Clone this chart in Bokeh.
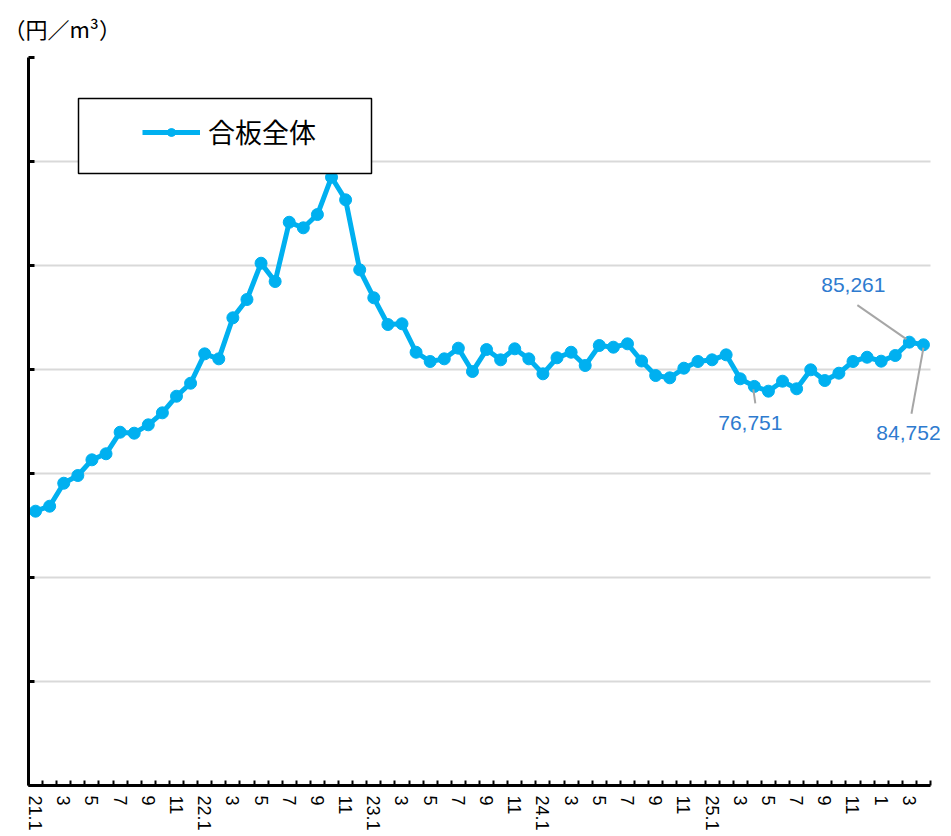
from bokeh.plotting import figure
from bokeh.models import (Range1d, FixedTicker, ColumnDataSource, LabelSet,
                          BoxAnnotation, Legend)
from bokeh.core.properties import value
from bokeh.embed import file_html
from bokeh.resources import INLINE

# ---------------- data ----------------
# monthly prices (円/m3), 2021.1 .. 2026.4
prices_2021 = [52750, 53710, 58130, 59610, 62630, 63790, 67940, 67750, 69360, 71670, 74860, 77360]
prices_2022 = [83010, 82050, 89940, 93460, 100440, 96920, 108320, 107250, 109800, 116980, 112630, 99170]
prices_2023 = [93790, 88650, 88790, 83320, 81540, 82050, 84100, 79610, 83840, 81860, 83980, 82050]
prices_2024 = [79170, 82250, 83320, 80770, 84610, 84290, 84940, 81630, 78840, 78400, 80250, 81540]
prices_2025 = [81860, 82820, 78210, 76751, 75830, 77750, 76290, 79940, 77880, 79290, 81540, 82360]
prices_2026 = [81600, 82690, 85261, 84752]
prices = prices_2021 + prices_2022 + prices_2023 + prices_2024 + prices_2025 + prices_2026

tick_labels = ["21.1", "3", "5", "7", "9", "11",
               "22.1", "3", "5", "7", "9", "11",
               "23.1", "3", "5", "7", "9", "11",
               "24.1", "3", "5", "7", "9", "11",
               "25.1", "3", "5", "7", "9", "11",
               "1", "3"]

series_name = "合板全体"
unit_title = "（円／m³）"
y_ticks = [0, 20000, 40000, 60000, 80000, 100000, 120000, 140000]

# annotated points (index into prices)
ann_idx = [51, 62, 63]

# ---------------- layout ----------------
n = len(prices)
PX_PER_X = 902 / n          # horizontal pixels per month
X0, X_END = -0.5, n - 0.5   # category extent (axis & grid)
EXTRA_R = 18                # extra frame room on the right for labels
X1 = X_END + EXTRA_R / PX_PER_X
FW = 902 + EXTRA_R
FH = 728
FRAME_L, FRAME_T = 28, 57
Y0, Y1 = 0, 140000

def px_x(px):
    return X0 + (px - FRAME_L) / PX_PER_X

def px_y(py):
    return Y0 + (FRAME_T + FH - py) / FH * (Y1 - Y0)

BLUE = "#00B0F0"
JP = "Noto Sans CJK JP"

p = figure(frame_width=FW, frame_height=FH, output_backend="svg", toolbar_location=None,
           x_range=Range1d(X0, X1), y_range=Range1d(Y0, Y1),
           min_border_left=FRAME_L, min_border_right=2, min_border_top=FRAME_T,
           min_border_bottom=0)
p.outline_line_color = None
p.background_fill_color = "white"

p.title.text = unit_title
p.title.text_font = JP
p.title.text_font_size = "22px"
p.title.text_font_style = "normal"
p.title.text_color = "black"
p.title.offset = -25
p.title.vertical_align = "top"
p.title.standoff = 23

# legend box
box = BoxAnnotation(left=px_x(78), right=px_x(371), top=px_y(98), bottom=px_y(173),
                    fill_color="white", fill_alpha=1.0, line_color="black",
                    line_alpha=1.0, line_width=1.5)
p.add_layout(box)

xs = list(range(n))
src = ColumnDataSource(dict(x=xs, y=prices))
r_line = p.line("x", "y", source=src, line_width=5, line_color=BLUE)
r_pts = p.scatter("x", "y", source=src, size=12, fill_color=BLUE, line_color=BLUE)

legend = Legend(items=[(series_name, [r_line, r_pts])], location=(114, 634),
                border_line_alpha=0, background_fill_alpha=0, padding=0, margin=0,
                glyph_width=58, glyph_height=20, label_standoff=8,
                label_text_font=JP, label_text_font_size="27px",
                label_text_color="black")
p.add_layout(legend)

# axes
p.xaxis.bounds = (X0, X_END)
p.xaxis.ticker = FixedTicker(ticks=list(range(0, n, 2)),
                             minor_ticks=[i - 0.5 for i in range(n + 1)])
p.xaxis.major_label_overrides = {i * 2: t for i, t in enumerate(tick_labels)}
p.xaxis.major_label_orientation = "vertical"
p.xaxis.major_tick_in = 0
p.xaxis.major_tick_out = 0
p.xaxis.minor_tick_in = 5
p.xaxis.minor_tick_out = 0
p.xaxis.minor_tick_line_width = 2
p.xaxis.minor_tick_line_color = "black"
p.xaxis.axis_line_width = 3
p.xaxis.axis_line_color = "black"
p.xaxis.major_label_text_font = "Liberation Sans"
p.xaxis.major_label_text_font_size = "18px"
p.xaxis.major_label_text_color = "black"
p.xaxis.major_label_standoff = 10

# y axis: ticks only (the reference's value labels are cut off at the page edge)
p.yaxis.ticker = FixedTicker(ticks=[], minor_ticks=y_ticks)
p.yaxis.minor_tick_in = 6
p.yaxis.minor_tick_out = 0
p.yaxis.minor_tick_line_width = 3
p.yaxis.minor_tick_line_color = "black"
p.yaxis.major_tick_line_color = None
p.yaxis.axis_line_width = 3
p.yaxis.axis_line_color = "black"
p.yaxis.major_label_standoff = 0

p.xgrid.visible = False
p.ygrid.ticker = FixedTicker(ticks=y_ticks)
p.ygrid.cross_bounds = (X0, X_END)
p.ygrid.grid_line_color = "#D9D9D9"
p.ygrid.grid_line_width = 2

# annotations: label offsets (px) and leader lines (px offsets from point)
lab_off = {51: (-4, -37), 62: (-56, 57), 63: (-15, -88)}
lead_off = {51: ((1, -17), (-1, -3)), 62: ((-52, 37), (-3, 3)), 63: ((-12, -69), (0, -3))}
ppy = (Y1 - Y0) / FH

ann_src = ColumnDataSource(dict(
    x=ann_idx, y=[prices[i] for i in ann_idx],
    text=[f"{prices[i]:,}" for i in ann_idx],
    dx=[lab_off[i][0] for i in ann_idx], dy=[lab_off[i][1] for i in ann_idx]))

seg_src = ColumnDataSource(dict(
    x0=[i + lead_off[i][0][0] / PX_PER_X for i in ann_idx],
    y0=[prices[i] + lead_off[i][0][1] * ppy for i in ann_idx],
    x1=[i + lead_off[i][1][0] / PX_PER_X for i in ann_idx],
    y1=[prices[i] + lead_off[i][1][1] * ppy for i in ann_idx]))
p.segment("x0", "y0", "x1", "y1", source=seg_src, line_color="#A6A6A6", line_width=2)

labels = LabelSet(x="x", y="y", text="text", x_offset="dx", y_offset="dy", source=ann_src,
                  text_align="center", text_baseline="middle",
                  text_font=value("Liberation Sans"), text_font_size=value("21px"),
                  text_color="#2E7BCF")
p.add_layout(labels)

open("out.html", "w").write(file_html(p, INLINE))
